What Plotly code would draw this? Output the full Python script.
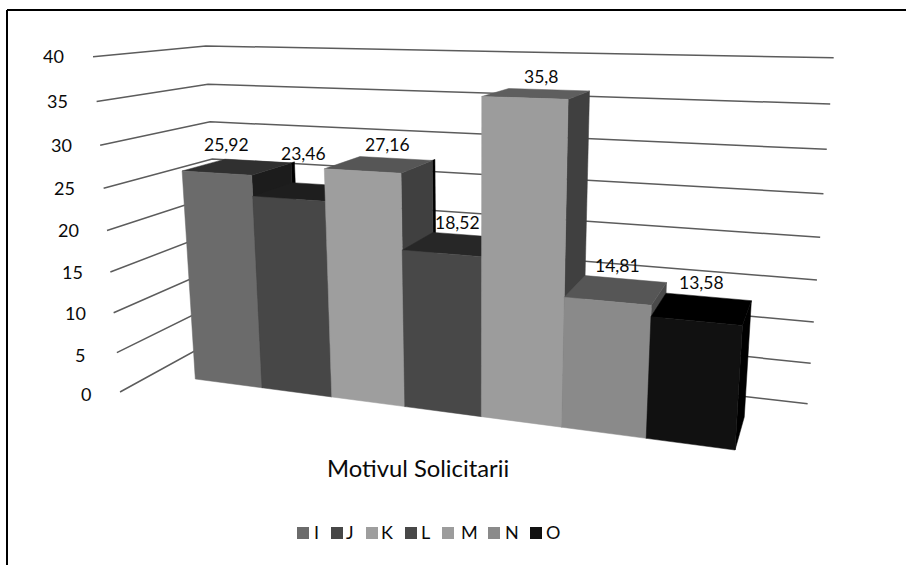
import numpy as np
import plotly.graph_objects as go

# Chart data
CATEGORIES = ["I", "J", "K", "L", "M", "N", "O"]
VALUES = [25.92, 23.46, 27.16, 18.52, 35.8, 14.81, 13.58]
AXIS_TICKS = [0, 5, 10, 15, 20, 25, 30, 35, 40]
AXIS_TITLE = "Motivul Solicitarii"

# Face shades of each column
FRONT_COLORS = ["#6b6b6b", "#474747", "#9e9e9e", "#484848", "#9c9c9c", "#8a8a8a", "#111111"]
TOP_COLORS = ["#303030", "#1e1e1e", "#565656", "#272727", "#5e5e5e", "#565656", "#000000"]
SIDE_COLORS = ["#1c1c1c", "#1c1c1c", "#404040", "#1c1c1c", "#404040", "#4a4a4a", "#000000"]
BACK_SLIVER = ["I", "K"]

# Perspective camera: three vanishing points, the floor origin and per-axis weights
ORIGIN = np.array([195.3, 379.0, 1.0])
VP_X = np.array([-2765.0, -10.5, 1.0])
VP_Y = np.array([476.0, 4810.0, 1.0])
VP_Z = np.array([866.0, -17.6, 1.0])
WEIGHT_X, WEIGHT_Y, WEIGHT_Z = -0.02203, -0.00173, 0.064

# Extent of the walls in column units
WALL_X = (-0.648, 7.70)
WALL_Z = (-0.714, 1.69)
WALL_VALUE_SCALE = 0.987


def project(x, y, z):
    """Map (column position, value, depth) to plot coordinates."""
    h = ORIGIN + x * WEIGHT_X * VP_X + y * WEIGHT_Y * VP_Y + z * WEIGHT_Z * VP_Z
    return h[0] / h[2], h[1] / h[2]


def polygon(corners):
    pts = [project(*c) for c in corners]
    pts.append(pts[0])
    return [p[0] for p in pts], [p[1] for p in pts]


fig = go.Figure()


def add_face(corners, color):
    xs, ys = polygon(corners)
    fig.add_trace(go.Scatter(x=xs, y=ys, mode="lines", fill="toself", fillcolor=color,
                             line=dict(color=color, width=0.5), hoverinfo="skip", showlegend=False))


# Gridlines over the left and back walls
for tick in AXIS_TICKS:
    v = tick * WALL_VALUE_SCALE
    pts = [project(WALL_X[0], v, WALL_Z[0]), project(WALL_X[0], v, WALL_Z[1]), project(WALL_X[1], v, WALL_Z[1])]
    fig.add_trace(go.Scatter(x=[p[0] for p in pts], y=[p[1] for p in pts], mode="lines",
                             line=dict(color="#5c5c5c", width=1.5), hoverinfo="skip", showlegend=False))

# Columns, painted left to right so each one hides the side of its neighbour
for i, (name, value) in enumerate(zip(CATEGORIES, VALUES)):
    x0, x1 = i, i + 1
    if name in BACK_SLIVER:
        add_face([(x1, 0, 1), (x1, 0, 1.09), (x1, value, 1.09), (x1, value, 1)], "#000000")
    add_face([(x1, 0, 0), (x1, 0, 1), (x1, value, 1), (x1, value, 0)], SIDE_COLORS[i])
    add_face([(x0, value, 0), (x1, value, 0), (x1, value, 1), (x0, value, 1)], TOP_COLORS[i])
    add_face([(x0, 0, 0), (x1, 0, 0), (x1, value, 0), (x0, value, 0)], FRONT_COLORS[i])

FONT = "Lato, Carlito, sans-serif"
TEXT = "#0a0a0a"


def add_text(x, y, text, size):
    fig.add_annotation(x=x, y=y - 1, text=text, showarrow=False, xanchor="center", yanchor="middle",
                       font=dict(family=FONT, size=size, color=TEXT))


# Value labels
LABEL_X = [226, 303, 387, 457, 541, 617, 701]
LABEL_Y = [145, 154, 145, 223, 77, 266, 283]
for lx, ly, value in zip(LABEL_X, LABEL_Y, VALUES):
    add_text(lx, ly, f"{value}".replace(".", ","), 17.5)

# Value axis labels
TICK_X = [86, 80, 75, 72, 68, 64, 61, 57, 53]
TICK_Y = [395, 356, 314, 273, 231, 189, 146, 102, 57]
for tx, ty, tick in zip(TICK_X, TICK_Y, AXIS_TICKS):
    add_text(tx, ty, str(tick), 18)

add_text(418, 469, AXIS_TITLE, 23.8)

# Legend row
SWATCH_X = [303, 337, 372, 411, 448, 494, 536]
KEY_X = [316, 350, 387, 425, 469, 512, 553]
for sx, kx, name, color in zip(SWATCH_X, KEY_X, CATEGORIES, FRONT_COLORS):
    fig.add_trace(go.Scatter(x=[sx], y=[533], mode="markers",
                             marker=dict(symbol="square", size=12, color=color, line=dict(width=0)),
                             hoverinfo="skip", showlegend=False))
    add_text(kx, 533, name, 18)

# Outer chart frame
fig.add_shape(type="line", x0=7, y0=10, x1=906, y1=10, line=dict(color="#000000", width=2))
fig.add_shape(type="line", x0=7, y0=10, x1=7, y1=565, line=dict(color="#000000", width=2))

fig.update_layout(
    width=906, height=565, margin=dict(l=0, r=0, t=0, b=0),
    paper_bgcolor="white", plot_bgcolor="white", showlegend=False,
    xaxis=dict(range=[0, 906], visible=False, fixedrange=True),
    yaxis=dict(range=[565, 0], visible=False, fixedrange=True),
)

fig.write_html("out.html")
